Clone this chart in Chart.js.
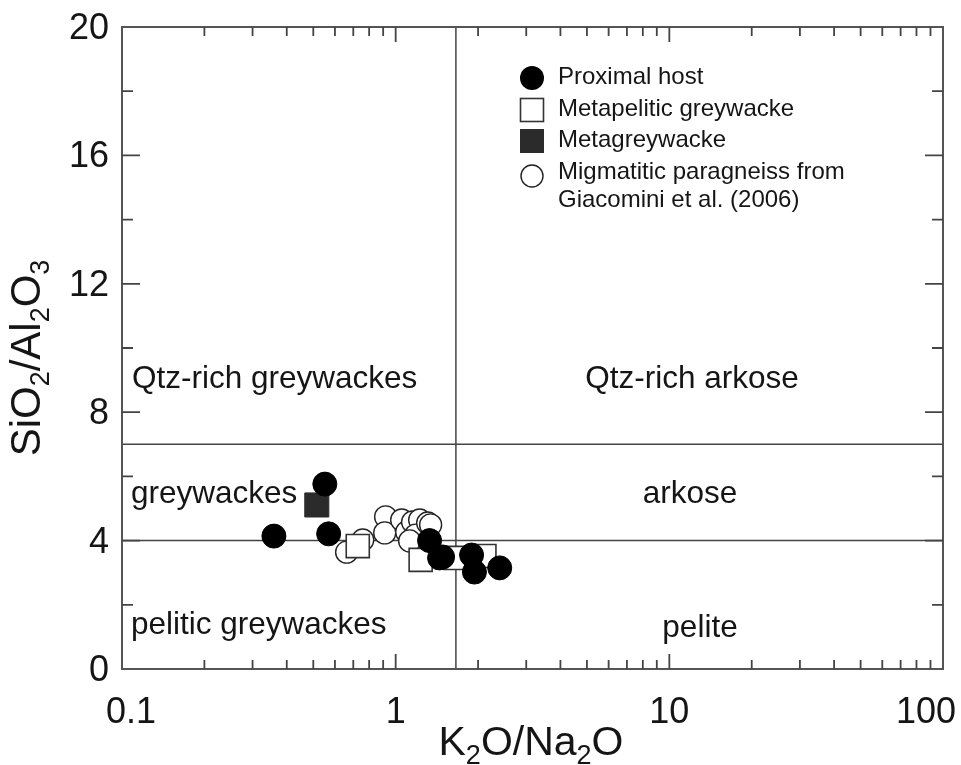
<!DOCTYPE html>
<html><head><meta charset="utf-8">
<script src="https://cdn.jsdelivr.net/npm/chart.js@4.4.1/dist/chart.umd.min.js"></script>
<style>html,body{margin:0;padding:0;background:#fff}#wrap{width:961px;height:765px}</style>
</head><body><div id="wrap"><canvas id="c" width="961" height="765"></canvas></div>
<script>
// ---- data (K2O/Na2O, SiO2/Al2O3) ----
const proximalX = [0.359, 0.551, 0.569, 1.33, 1.447, 1.484, 1.894, 1.94, 2.40];
const proximalY = [4.14, 5.76, 4.21, 4.00, 3.46, 3.49, 3.55, 3.02, 3.15];
const metapeliticX = [0.727, 1.234, 1.656, 2.11];
const metapeliticY = [3.83, 3.40, 3.46, 3.52];
const metagreywackeX = [0.515];
const metagreywackeY = [5.11];
const migmatiticX = [0.662, 0.758, 0.919, 0.912, 1.052, 1.097, 1.153, 1.224, 1.183, 1.309, 1.342, 1.125];
const migmatiticY = [3.64, 4.02, 4.74, 4.24, 4.64, 4.27, 4.58, 4.64, 4.17, 4.55, 4.49, 3.99];
// field boundaries
const boundaryK2ONa2O = 1.66;
const boundarySiAl = [7, 4];
// axes
const xTickLabels = [0.1, 1, 10, 100];
const yTickLabels = [0, 4, 8, 12, 16, 20];
const fieldLabels = ["Qtz-rich greywackes", "Qtz-rich arkose", "greywackes", "arkose", "pelitic greywackes", "pelite"];
const legendLabels = ["Proximal host", "Metapelitic greywacke", "Metagreywacke", ["Migmatitic paragneiss from", "Giacomini et al. (2006)"]];

const pts = (xs, ys) => xs.map((x, i) => ({x, y: ys[i]}));
const FONT = '"Liberation Sans", Arial, sans-serif';

const datasets = [
  {label: legendLabels[0], data: pts(proximalX, proximalY), pointStyle: 'circle', pointRadius: 12,
   backgroundColor: '#000', borderColor: '#000', borderWidth: 1},
  {label: legendLabels[2], data: pts(metagreywackeX, metagreywackeY), pointStyle: 'rect', pointRadius: 17,
   backgroundColor: '#2b2b2b', borderColor: '#2b2b2b', borderWidth: 1},
  {label: legendLabels[1], data: pts(metapeliticX, metapeliticY), pointStyle: 'rect', pointRadius: 16.3,
   backgroundColor: '#fff', borderColor: '#333', borderWidth: 1.6},
  {label: 'Migmatitic paragneiss', data: pts(migmatiticX, migmatiticY), pointStyle: 'circle', pointRadius: 11,
   backgroundColor: '#fff', borderColor: '#222', borderWidth: 1.4},
  {label: 'v', type: 'line', data: [{x: boundaryK2ONa2O, y: 0}, {x: boundaryK2ONa2O, y: 20}],
   borderColor: '#444', borderWidth: 1.5, pointRadius: 0, showLine: true},
  {label: 'h1', type: 'line', data: [{x: 0.1, y: boundarySiAl[0]}, {x: 100, y: boundarySiAl[0]}],
   borderColor: '#444', borderWidth: 1.5, pointRadius: 0, showLine: true},
  {label: 'h2', type: 'line', data: [{x: 0.1, y: boundarySiAl[1]}, {x: 100, y: boundarySiAl[1]}],
   borderColor: '#444', borderWidth: 1.5, pointRadius: 0, showLine: true}
];

function drawSubText(ctx, parts, x, y, align, big, small, drop) {
  let w = 0;
  parts.forEach(p => { ctx.font = (p[1] ? small : big) + 'px ' + FONT; w += ctx.measureText(p[0]).width; });
  let cx = align === 'center' ? x - w / 2 : x;
  ctx.textAlign = 'left';
  ctx.textBaseline = 'alphabetic';
  parts.forEach(p => {
    ctx.font = (p[1] ? small : big) + 'px ' + FONT;
    ctx.fillText(p[0], cx, p[1] ? y + drop : y);
    cx += ctx.measureText(p[0]).width;
  });
}

const decor = {
  id: 'decor',
  afterDatasetsDraw(chart) {
    const ctx = chart.ctx, xs = chart.scales.x, ys = chart.scales.y, a = chart.chartArea;
    ctx.save();
    // frame
    ctx.strokeStyle = '#555'; ctx.lineWidth = 2;
    ctx.strokeRect(a.left, a.top, a.right - a.left, a.bottom - a.top);
    // x ticks (inside, bottom & top)
    ctx.lineWidth = 1.8; ctx.strokeStyle = '#444';
    for (let d = -1; d < 2; d++) {
      for (let m = 1; m <= 9; m++) {
        const v = m * Math.pow(10, d);
        if (v <= 0.1 || v >= 100) continue;
        const px = xs.getPixelForValue(v);
        const len = m === 1 ? 15 : 9;
        ctx.beginPath();
        ctx.moveTo(px, a.bottom); ctx.lineTo(px, a.bottom - len);
        ctx.moveTo(px, a.top); ctx.lineTo(px, a.top + len);
        ctx.stroke();
      }
    }
    // y ticks every 2
    for (let v = 2; v < 20; v += 2) {
      const py = ys.getPixelForValue(v);
      const len = v % 4 === 0 ? 18 : 11;
      ctx.beginPath();
      ctx.moveTo(a.left, py); ctx.lineTo(a.left + len, py);
      ctx.moveTo(a.right, py); ctx.lineTo(a.right - len, py);
      ctx.stroke();
    }
    // tick labels
    ctx.fillStyle = '#151515';
    ctx.font = '36px ' + FONT;
    ctx.textBaseline = 'alphabetic';
    xTickLabels.forEach((v, i) => {
      let px = xs.getPixelForValue(v);
      if (i === 0) px += 9;
      if (i === xTickLabels.length - 1) px -= 17;
      ctx.textAlign = 'center';
      ctx.fillText(String(v), px, 723);
    });
    ctx.textAlign = 'right'; ctx.textBaseline = 'middle';
    yTickLabels.forEach(v => {
      ctx.fillText(String(v), 109, ys.getPixelForValue(v) + 2);
    });
    // axis titles
    drawSubText(ctx, [['K', 0], ['2', 1], ['O/Na', 0], ['2', 1], ['O', 0]], 531, 755, 'center', 41, 27, 9);
    ctx.save();
    ctx.translate(40, 358);
    ctx.rotate(-Math.PI / 2);
    drawSubText(ctx, [['SiO', 0], ['2', 1], ['/Al', 0], ['2', 1], ['O', 0], ['3', 1]], 0, 0, 'center', 42, 27, 9);
    ctx.restore();
    // field labels
    ctx.font = '31.5px ' + FONT; ctx.textBaseline = 'alphabetic'; ctx.fillStyle = '#151515';
    ctx.textAlign = 'left';
    ctx.fillText(fieldLabels[0], 132, 388);
    ctx.fillText(fieldLabels[2], 131, 503);
    ctx.fillText(fieldLabels[4], 131, 634);
    ctx.textAlign = 'center';
    ctx.fillText(fieldLabels[1], 692, 388);
    ctx.fillText(fieldLabels[3], 690, 503);
    ctx.fillText(fieldLabels[5], 700, 637);
    // legend
    ctx.font = '24px ' + FONT; ctx.textAlign = 'left'; ctx.textBaseline = 'middle';
    const lx = 532, tx = 558;
    ctx.fillStyle = '#000';
    ctx.beginPath(); ctx.arc(lx, 78, 12, 0, Math.PI * 2); ctx.fill();
    ctx.fillStyle = '#fff'; ctx.strokeStyle = '#333'; ctx.lineWidth = 1.6;
    ctx.fillRect(lx - 11.5, 110 - 11.5, 23, 23); ctx.strokeRect(lx - 11.5, 110 - 11.5, 23, 23);
    ctx.fillStyle = '#2b2b2b';
    ctx.fillRect(lx - 12, 141 - 12, 24, 24);
    ctx.fillStyle = '#fff'; ctx.strokeStyle = '#222'; ctx.lineWidth = 1.4;
    ctx.beginPath(); ctx.arc(lx, 176, 11, 0, Math.PI * 2); ctx.fill(); ctx.stroke();
    ctx.fillStyle = '#151515';
    ctx.fillText(legendLabels[0], tx, 77);
    ctx.fillText(legendLabels[1], tx, 109);
    ctx.fillText(legendLabels[2], tx, 140);
    ctx.fillText(legendLabels[3][0], tx, 172);
    ctx.fillText(legendLabels[3][1], tx, 200);
    ctx.restore();
  }
};

new Chart(document.getElementById('c'), {
  type: 'scatter',
  data: {datasets},
  options: {
    responsive: false,
    animation: false,
    events: [],
    layout: {padding: {left: 122, right: 17, top: 27, bottom: 96}},
    plugins: {legend: {display: false}, tooltip: {enabled: false}},
    scales: {
      x: {type: 'logarithmic', min: 0.1, max: 100, display: false},
      y: {type: 'linear', min: 0, max: 20, display: false}
    }
  },
  plugins: [decor]
});
</script>
</body></html>
